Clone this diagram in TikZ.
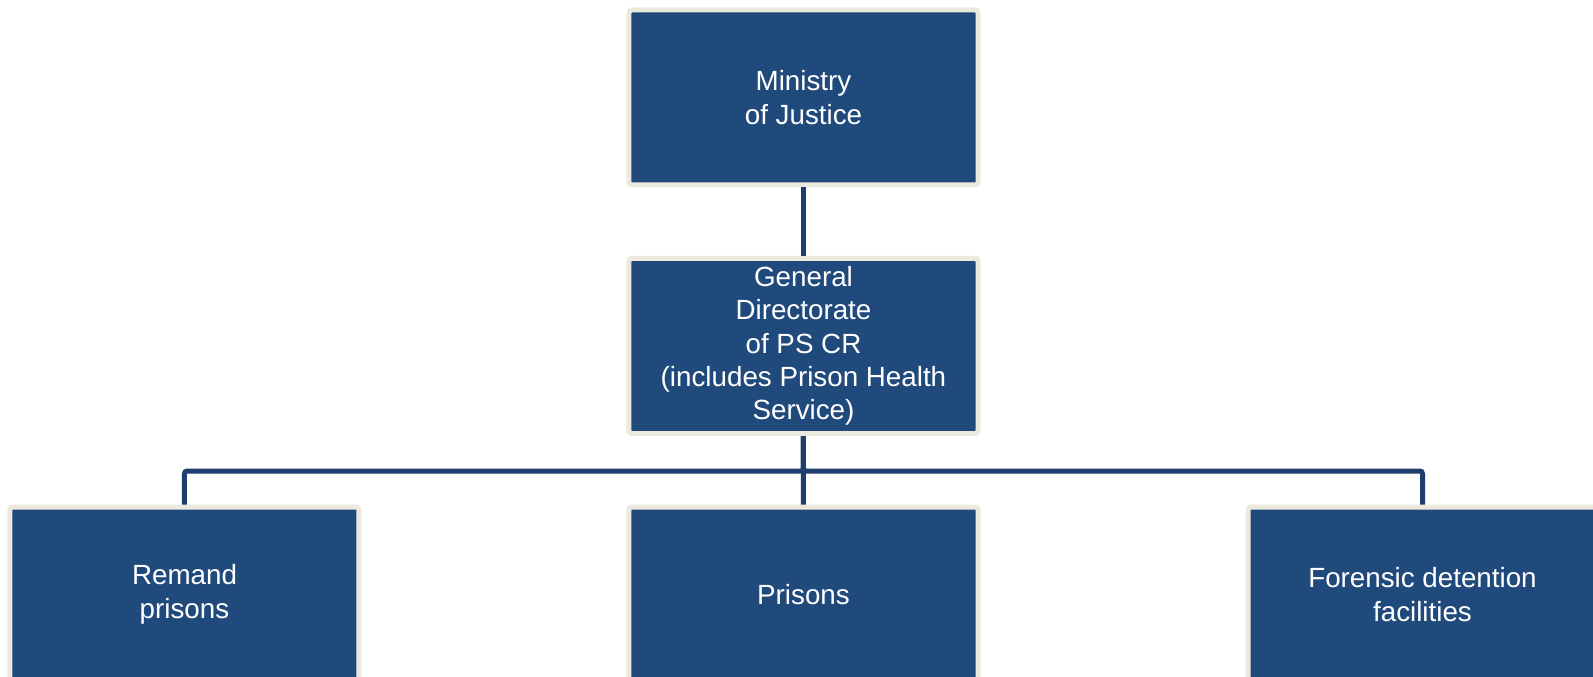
\documentclass[tikz,border=0pt]{standalone}
\usepackage{fontspec}
\setmainfont{Liberation Sans}
\usepackage{tikz}

\definecolor{unitblue}{HTML}{214A7C}
\definecolor{unitrim}{HTML}{ECE9DF}
\definecolor{linkblue}{HTML}{1E3F6E}

\tikzset{
    unit/.style={rectangle, fill=unitblue, draw=unitrim, line width=0.1cm,
        rounded corners=1.5pt, minimum width=6.98cm, minimum height=3.5cm,
        inner sep=0pt, align=center, text=white,
        font=\fontsize{15.8}{19}\selectfont},
    link/.style={draw=linkblue, line width=0.1cm, rounded corners=1.5pt},
    edge from parent/.style={draw=none}
}

\begin{document}
\begin{tikzpicture}[level distance=4.97cm, level 2/.style={sibling distance=12.38cm}]
    \useasboundingbox (-16.07,1.95) rectangle (15.79,-11.59);
    \clip (-16.07,1.95) rectangle (15.79,-11.59);

        \node[unit] (moj) {Ministry\\of Justice}
        child {
            node[unit] (gd) {General\\Directorate\\of PS CR\\(includes Prison Health\\Service)}
            child { node[unit] (remand) {Remand\\prisons} }
            child { node[unit] (prisons) {Prisons} }
            child { node[unit] (forensic) {Forensic detention\\facilities} }
        };

    % connectors
    \draw[link] (moj) -- (gd);
    \draw[link] (gd.south) -- ++(0,-0.7) -| (remand.north);
    \draw[link] (gd.south) -- ++(0,-0.7) -| (forensic.north);
    \draw[link] (gd) -- (prisons);
    \end{tikzpicture}
\end{document}
